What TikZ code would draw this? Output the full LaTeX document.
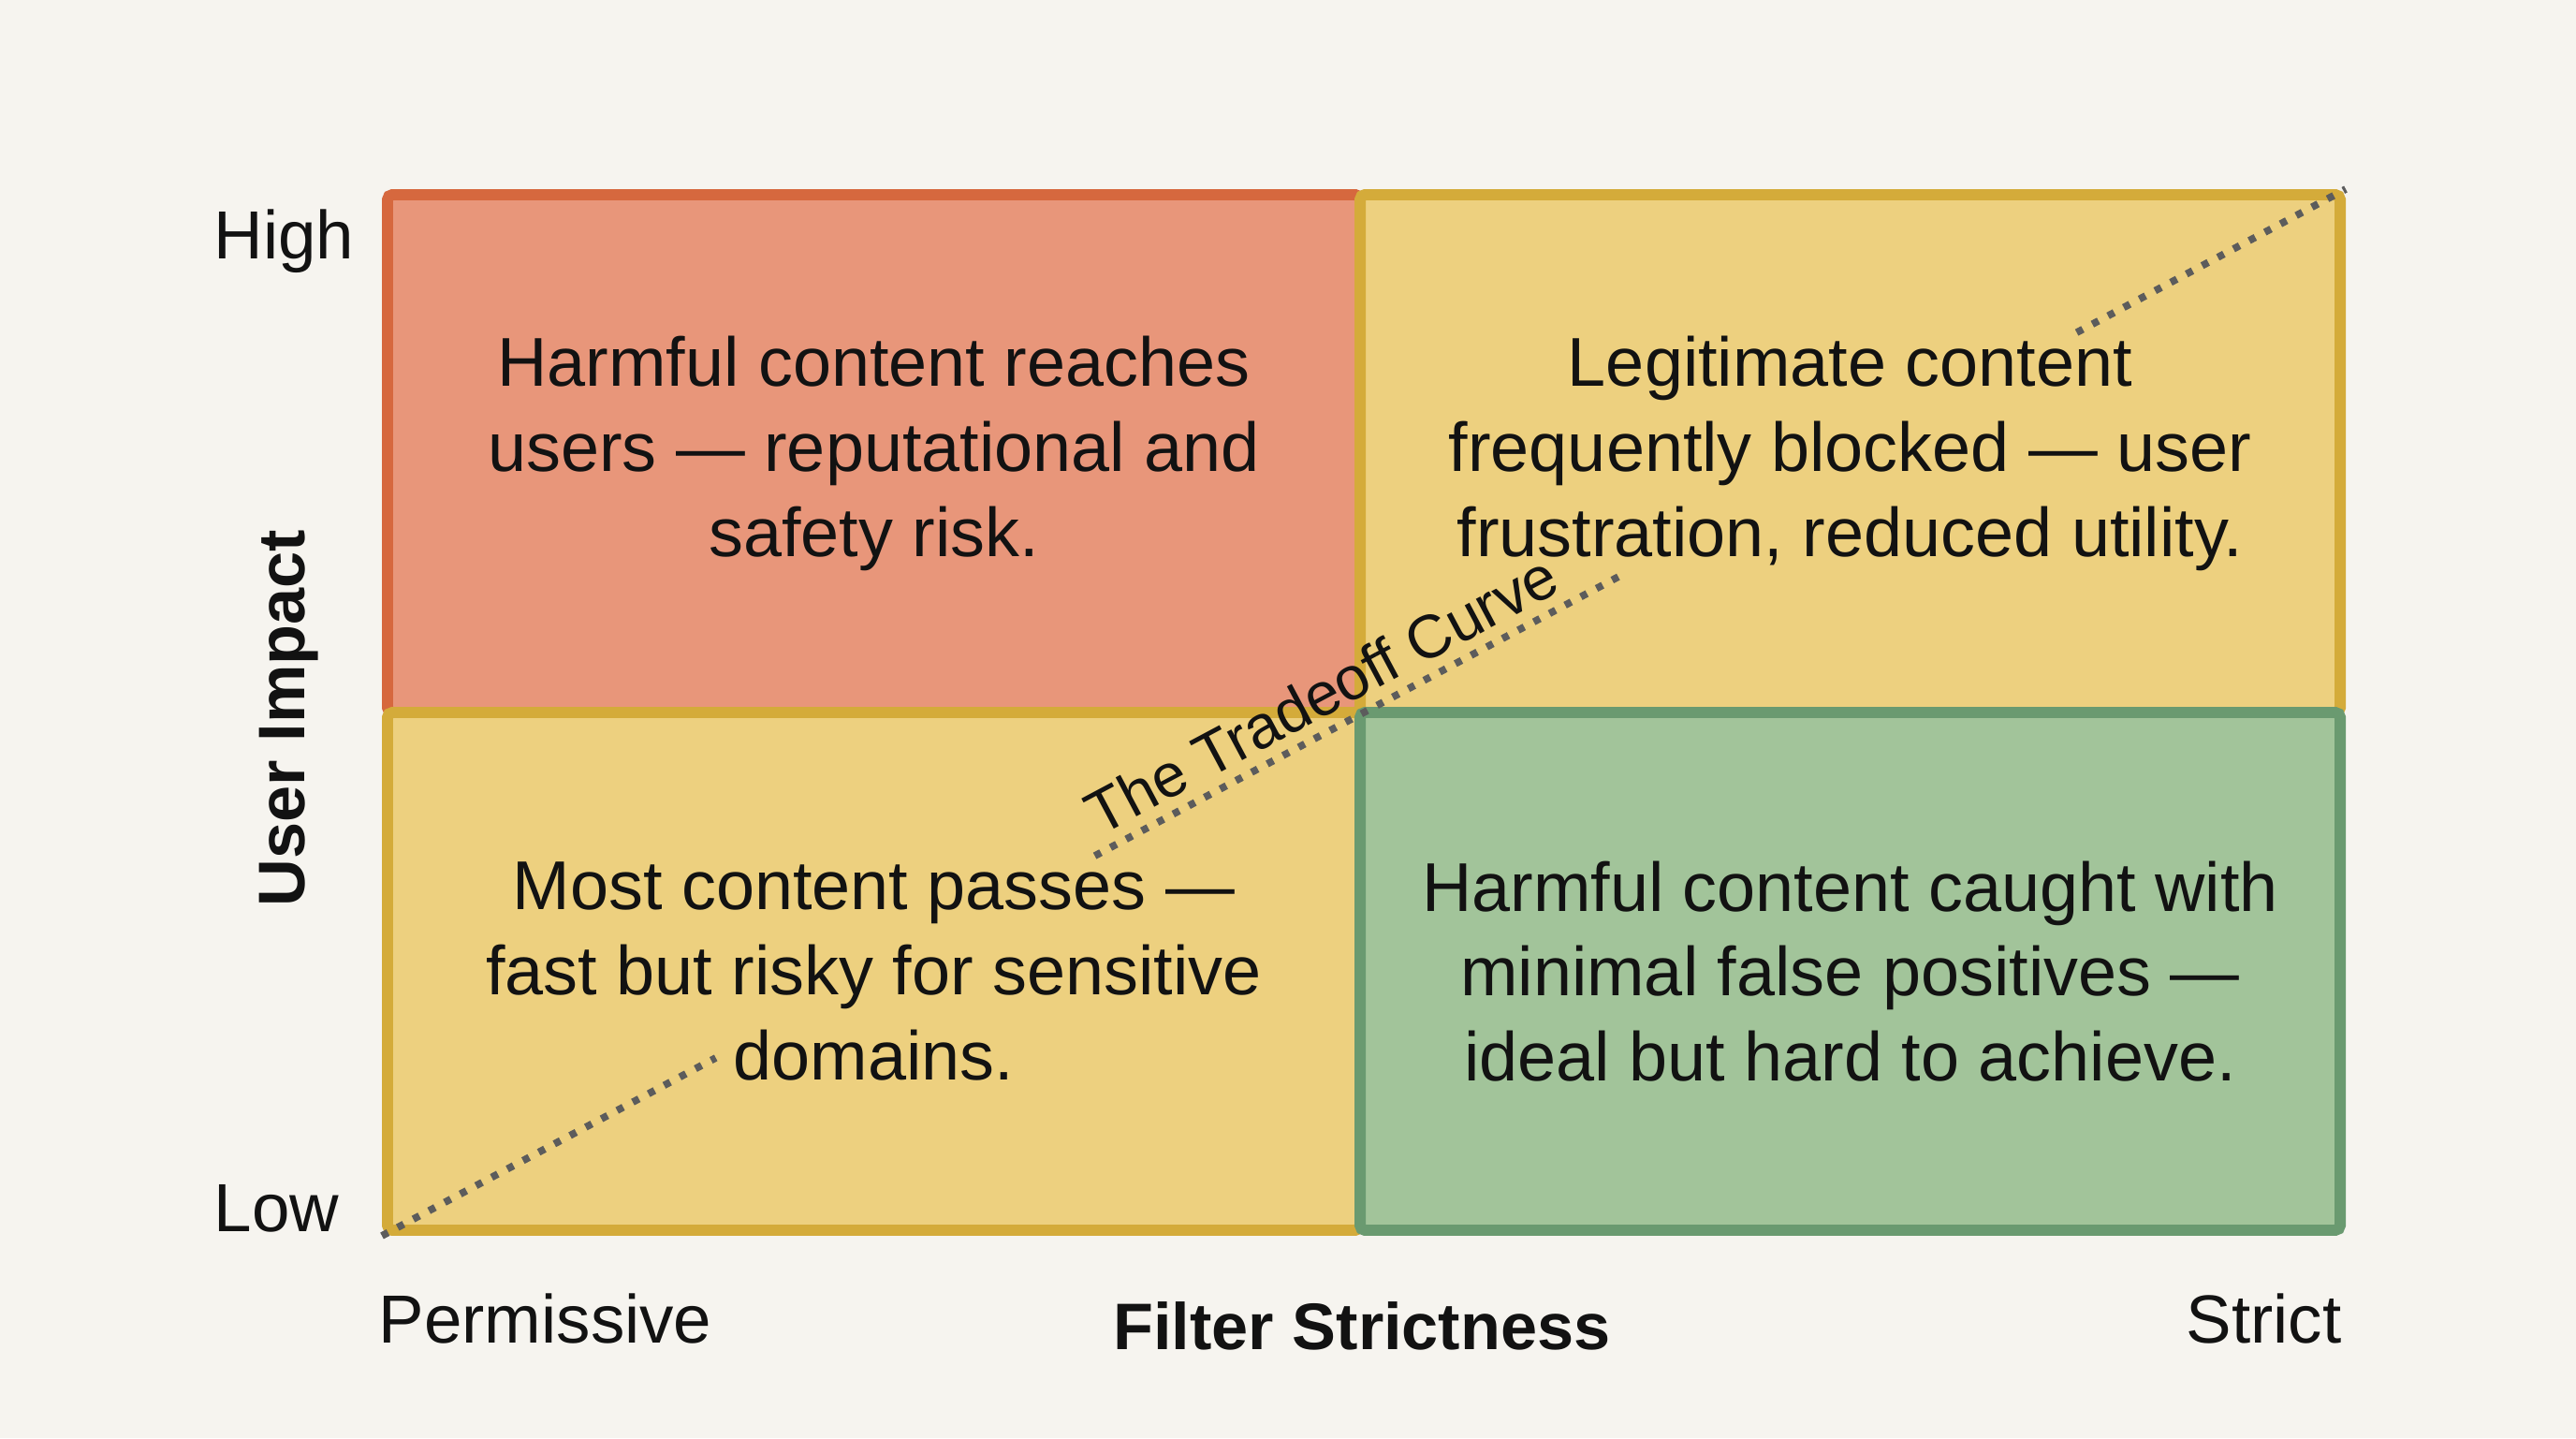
\documentclass[tikz,border=0pt]{standalone}
\usepackage{fontspec}
\setmainfont{Liberation Sans}
\usetikzlibrary{positioning,calc}
\definecolor{paper}{HTML}{F6F4EF}
\definecolor{riskFill}{HTML}{E8967A}
\definecolor{riskLine}{HTML}{D6683E}
\definecolor{midFill}{HTML}{EDD07F}
\definecolor{midLine}{HTML}{D4AB3A}
\definecolor{goodFill}{HTML}{A2C49A}
\definecolor{goodLine}{HTML}{6A9A70}
\definecolor{curveGray}{HTML}{5C5C5C}
\tikzset{
    quad/.style={draw, line width=3.4pt, rounded corners=1.5pt, inner sep=0pt,
        align=center, text=black!93, font=\fontsize{21}{25.8}\selectfont},
    quadLeft/.style={quad, minimum width=10.39cm, minimum height=5.53cm},
    quadRight/.style={quad, minimum width=10.47cm, minimum height=5.53cm},
    axisText/.style={inner sep=0pt, text=black!93, font=\fontsize{20.7}{25}\selectfont},
    axisTitle/.style={inner sep=0pt, text=black!93, font=\fontsize{20}{24}\selectfont\bfseries},
    curve/.style={curveGray, line width=2.2pt, dash pattern=on 2.1pt off 3.3pt}
}
\begin{document}
\begin{tikzpicture}
        \useasboundingbox (0,0) rectangle (27.52,15.36);
        \fill[paper] (0,0) rectangle (27.52,15.36);
        % the four quadrants
        \node[quadLeft, fill=riskFill, draw=riskLine] (tl) at (9.335,10.515)
            {Harmful content reaches\\users --- reputational and\\safety risk.};
        \node[quadRight, fill=midFill, draw=midLine] (tr) at (19.765,10.515)
            {Legitimate content\\frequently blocked --- user\\frustration, reduced utility.};
        \node[quadLeft, fill=midFill, draw=midLine] (bl) at (9.335,4.985)
            {Most content passes ---\\fast but risky for sensitive\\domains.};
        \node[quadRight, fill=goodFill, draw=goodLine] (br) at (19.765,4.985)
            {Harmful content caught with\\minimal false positives ---\\ideal but hard to achieve.};
        % axes
        \node[axisText, anchor=base west] (high) at (2.28,12.59) {High};
        \node[axisText, anchor=base west] (low) at (2.28,2.20) {Low};
        \node[axisTitle, anchor=base, rotate=90] (impact) at (3.25,7.69) {User Impact};
        \node[axisText, anchor=base west] (perm) at (4.04,1.02) {Permissive};
        \node[axisText, anchor=base east] (strict) at (25.02,1.02) {Strict};
        \node[axisTitle, anchor=base] (strictness) at (14.55,0.95) {Filter Strictness};
        % tradeoff curve, broken around the texts
        \coordinate (lo) at (bl.south west);
        \coordinate (hi) at (tr.north east);
        \coordinate (c1) at ($(lo)!0.170!(hi)$);
        \coordinate (c2) at ($(lo)!0.363!(hi)$);
        \coordinate (c3) at ($(lo)!0.632!(hi)$);
        \coordinate (c4) at ($(lo)!0.863!(hi)$);
        \draw[curve] (lo) -- (c1);
        \draw[curve] (c2) -- (c3);
        \draw[curve] (c4) -- (hi);
        \path (lo) -- (hi) node[pos=0.487, sloped, above=4pt, inner sep=0pt,
            text=black!93, font=\fontsize{18.5}{20}\selectfont] (tradeoff) {The Tradeoff Curve};
      \end{tikzpicture}
\end{document}
